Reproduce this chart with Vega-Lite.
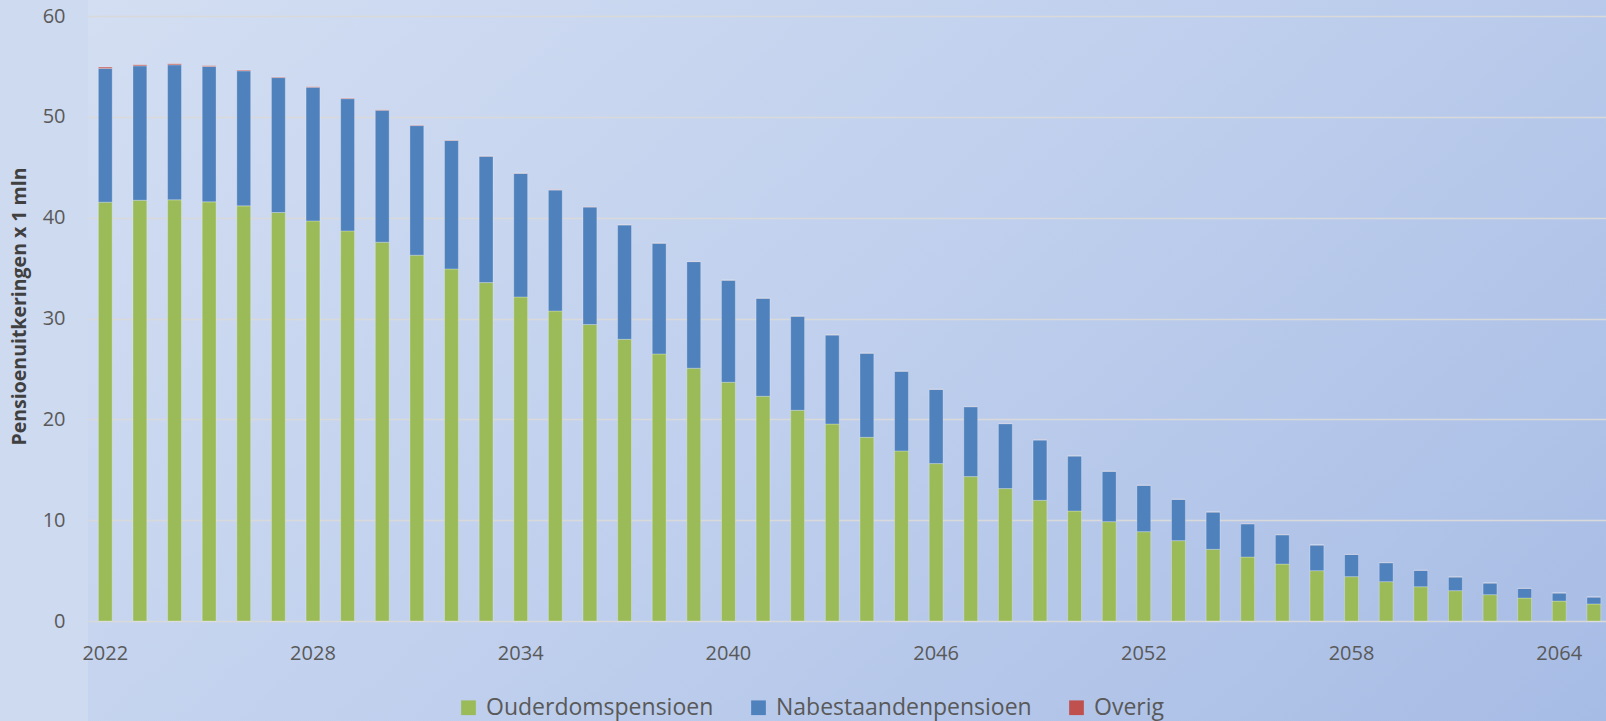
{
  "$schema": "https://vega.github.io/schema/vega-lite/v6.json",
  "autosize": "none",
  "width": 1518,
  "height": 721,
  "padding": {"left": 88, "top": 0, "right": 0, "bottom": 0},
  "background": "#cedaf0",
  "view": {
    "stroke": null,
    "fill": {
      "gradient": "linear",
      "x1": 0, "y1": 0, "x2": 1.19, "y2": 0.64,
      "stops": [
        {"offset": 0, "color": "#d3def2"},
        {"offset": 0.5, "color": "#bfcfed"},
        {"offset": 1, "color": "#a7bce5"}
      ]
    }
  },
  "data": {
    "values": [
      {"year": 2022, "Ouderdomspensioen": 41.54, "Nabestaandenpensioen": 13.26, "Overig": 0.13},
      {"year": 2023, "Ouderdomspensioen": 41.73, "Nabestaandenpensioen": 13.33, "Overig": 0.10},
      {"year": 2024, "Ouderdomspensioen": 41.77, "Nabestaandenpensioen": 13.39, "Overig": 0.10},
      {"year": 2025, "Ouderdomspensioen": 41.57, "Nabestaandenpensioen": 13.42, "Overig": 0.07},
      {"year": 2026, "Ouderdomspensioen": 41.17, "Nabestaandenpensioen": 13.39, "Overig": 0.07},
      {"year": 2027, "Ouderdomspensioen": 40.51, "Nabestaandenpensioen": 13.38, "Overig": 0.05},
      {"year": 2028, "Ouderdomspensioen": 39.68, "Nabestaandenpensioen": 13.25, "Overig": 0.05},
      {"year": 2029, "Ouderdomspensioen": 38.69, "Nabestaandenpensioen": 13.11, "Overig": 0.05},
      {"year": 2030, "Ouderdomspensioen": 37.57, "Nabestaandenpensioen": 13.08, "Overig": 0.04},
      {"year": 2031, "Ouderdomspensioen": 36.28, "Nabestaandenpensioen": 12.85, "Overig": 0.04},
      {"year": 2032, "Ouderdomspensioen": 34.92, "Nabestaandenpensioen": 12.74, "Overig": 0.03},
      {"year": 2033, "Ouderdomspensioen": 33.56, "Nabestaandenpensioen": 12.52, "Overig": 0.02},
      {"year": 2034, "Ouderdomspensioen": 32.14, "Nabestaandenpensioen": 12.25, "Overig": 0.02},
      {"year": 2035, "Ouderdomspensioen": 30.75, "Nabestaandenpensioen": 11.99, "Overig": 0.02},
      {"year": 2036, "Ouderdomspensioen": 29.40, "Nabestaandenpensioen": 11.65, "Overig": 0.02},
      {"year": 2037, "Ouderdomspensioen": 27.94, "Nabestaandenpensioen": 11.34, "Overig": 0.01},
      {"year": 2038, "Ouderdomspensioen": 26.49, "Nabestaandenpensioen": 10.97, "Overig": 0.01},
      {"year": 2039, "Ouderdomspensioen": 25.07, "Nabestaandenpensioen": 10.57, "Overig": 0.01},
      {"year": 2040, "Ouderdomspensioen": 23.68, "Nabestaandenpensioen": 10.11, "Overig": 0.01},
      {"year": 2041, "Ouderdomspensioen": 22.29, "Nabestaandenpensioen": 9.71, "Overig": 0.01},
      {"year": 2042, "Ouderdomspensioen": 20.90, "Nabestaandenpensioen": 9.32, "Overig": 0.01},
      {"year": 2043, "Ouderdomspensioen": 19.54, "Nabestaandenpensioen": 8.82, "Overig": 0.01},
      {"year": 2044, "Ouderdomspensioen": 18.22, "Nabestaandenpensioen": 8.33, "Overig": 0.01},
      {"year": 2045, "Ouderdomspensioen": 16.87, "Nabestaandenpensioen": 7.89, "Overig": 0.01},
      {"year": 2046, "Ouderdomspensioen": 15.61, "Nabestaandenpensioen": 7.36, "Overig": 0.01},
      {"year": 2047, "Ouderdomspensioen": 14.32, "Nabestaandenpensioen": 6.93, "Overig": 0.01},
      {"year": 2048, "Ouderdomspensioen": 13.13, "Nabestaandenpensioen": 6.44, "Overig": 0.01},
      {"year": 2049, "Ouderdomspensioen": 11.97, "Nabestaandenpensioen": 5.98, "Overig": 0.01},
      {"year": 2050, "Ouderdomspensioen": 10.91, "Nabestaandenpensioen": 5.45, "Overig": 0.01},
      {"year": 2051, "Ouderdomspensioen": 9.85, "Nabestaandenpensioen": 4.99, "Overig": 0.01},
      {"year": 2052, "Ouderdomspensioen": 8.86, "Nabestaandenpensioen": 4.59, "Overig": 0.01},
      {"year": 2053, "Ouderdomspensioen": 7.97, "Nabestaandenpensioen": 4.09, "Overig": 0.01},
      {"year": 2054, "Ouderdomspensioen": 7.11, "Nabestaandenpensioen": 3.69, "Overig": 0.01},
      {"year": 2055, "Ouderdomspensioen": 6.35, "Nabestaandenpensioen": 3.29, "Overig": 0.01},
      {"year": 2056, "Ouderdomspensioen": 5.65, "Nabestaandenpensioen": 2.90, "Overig": 0.01},
      {"year": 2057, "Ouderdomspensioen": 4.99, "Nabestaandenpensioen": 2.54, "Overig": 0.01},
      {"year": 2058, "Ouderdomspensioen": 4.40, "Nabestaandenpensioen": 2.20, "Overig": 0.01},
      {"year": 2059, "Ouderdomspensioen": 3.90, "Nabestaandenpensioen": 1.88, "Overig": 0.01},
      {"year": 2060, "Ouderdomspensioen": 3.40, "Nabestaandenpensioen": 1.62, "Overig": 0.01},
      {"year": 2061, "Ouderdomspensioen": 3.01, "Nabestaandenpensioen": 1.35, "Overig": 0.01},
      {"year": 2062, "Ouderdomspensioen": 2.61, "Nabestaandenpensioen": 1.15, "Overig": 0.01},
      {"year": 2063, "Ouderdomspensioen": 2.28, "Nabestaandenpensioen": 0.95, "Overig": 0.01},
      {"year": 2064, "Ouderdomspensioen": 1.98, "Nabestaandenpensioen": 0.79, "Overig": 0.01},
      {"year": 2065, "Ouderdomspensioen": 1.69, "Nabestaandenpensioen": 0.68, "Overig": 0.01}
    ]
  },
  "transform": [
    {"fold": ["Ouderdomspensioen", "Nabestaandenpensioen", "Overig"], "as": ["type", "value"]}
  ],
  "mark": {"type": "bar", "stroke": "#ffffff", "strokeOpacity": 0.25, "strokeWidth": 1},
  "encoding": {
    "x": {
      "field": "year",
      "type": "ordinal",
      "scale": {"paddingInner": 0.6, "paddingOuter": 0.225, "align": 0.665},
      "axis": {
        "title": null,
        "values": [2022, 2028, 2034, 2040, 2046, 2052, 2058, 2064],
        "labelAngle": 0,
        "offset": -100,
        "domain": false,
        "ticks": false,
        "grid": false,
        "labelPadding": 22,
        "labelFont": "Open Sans",
        "labelFontSize": 20,
        "labelColor": "#595959"
      }
    },
    "y": {
      "field": "value",
      "type": "quantitative",
      "stack": "zero",
      "scale": {"domain": [-9.917, 61.587], "nice": false, "zero": false},
      "axis": {
        "title": "Pensioenuitkeringen x 1 mln",
        "values": [0, 10, 20, 30, 40, 50, 60],
        "domain": false,
        "ticks": false,
        "grid": true,
        "gridColor": "#d9d9d9",
        "gridWidth": 1.5,
        "labelPadding": 23,
        "labelFont": "Open Sans",
        "labelFontSize": 20,
        "labelColor": "#595959",
        "titleFont": "Open Sans",
        "titleFontWeight": "bold",
        "titleFontSize": 19.5,
        "titleColor": "#404040",
        "titleAngle": -90,
        "titleAlign": "center",
        "titleBaseline": "middle",
        "titleX": -69,
        "titleY": 306
      }
    },
    "color": {
      "field": "type",
      "type": "nominal",
      "scale": {
        "domain": ["Ouderdomspensioen", "Nabestaandenpensioen", "Overig"],
        "range": ["#9bbb59", "#4f81bd", "#c0504d"]
      },
      "legend": {
        "title": null,
        "orient": "none",
        "direction": "horizontal",
        "legendX": 369,
        "legendY": 696,
        "padding": 0,
        "symbolType": "square",
        "symbolSize": 216,
        "symbolStrokeWidth": 0,
        "symbolOpacity": 1,
        "labelFont": "Open Sans",
        "labelFontSize": 23,
        "labelLimit": 0,
        "labelColor": "#595959",
        "labelOffset": 6,
        "columnPadding": 33
      }
    },
    "order": {"field": "value", "sort": "descending"}
  }
}
